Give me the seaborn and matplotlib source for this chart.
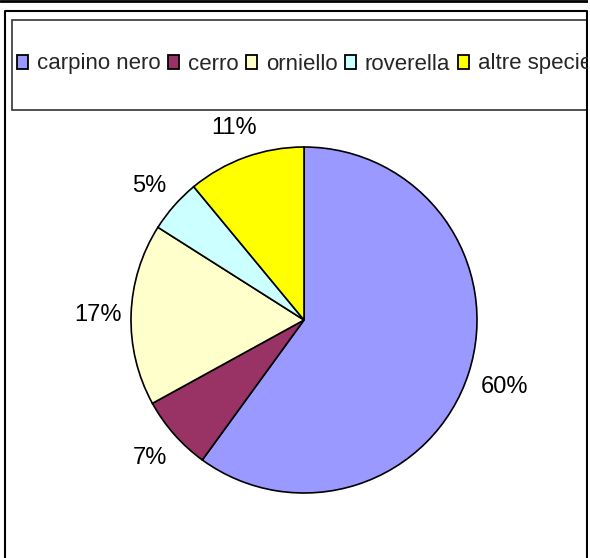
import matplotlib
matplotlib.use("Agg")
import matplotlib.pyplot as plt
from matplotlib.patches import Patch, Rectangle
from matplotlib.lines import Line2D
import numpy as np
import seaborn as sns

# data
species = ['carpino nero', 'cerro', 'orniello', 'roverella', 'altre specie']
shares = [60, 7, 17, 5, 11]
colors = ['#9999FF', '#993366', '#FFFFCC', '#CCFFFF', '#FFFF00']

sns.set_theme(style='white')
plt.rcParams['font.family'] = ['Liberation Sans', 'DejaVu Sans']

W, H = 590, 558
fig = plt.figure(figsize=(W / 100, H / 100), dpi=100)
fig.patch.set_facecolor('white')


def fx(x):
    return x / W


def fy(y):
    return 1 - y / H


# outer frame lines
fig.add_artist(Line2D([0, 1], [fy(0.5), fy(0.5)], color='black', lw=2, transform=fig.transFigure))
fig.add_artist(Line2D([fx(5), fx(5), fx(587), fx(587)], [0, fy(11), fy(11), 0],
                      color='black', lw=1.5, transform=fig.transFigure))

# legend box
fig.add_artist(Rectangle((fx(12), fy(110)), fx(590) - fx(12), fy(20) - fy(110),
                         transform=fig.transFigure, fill=False, edgecolor='#333333', lw=1.2))

# pie
cx, cy, r = 304, 320, 173
ax = fig.add_axes([fx(cx - r), fy(cy + r), 2 * r / W, 2 * r / H])
wedges = ax.pie(shares, colors=colors, startangle=90, counterclock=False,
                wedgeprops=dict(edgecolor='black', linewidth=1.2))[0]
for w, s in zip(wedges, shares):
    ang = np.deg2rad((w.theta1 + w.theta2) / 2)
    d = 1.22 if s > 50 else 1.19
    ax.text(d * np.cos(ang), d * np.sin(ang) - 0.01, f'{s}%', ha='center', va='center',
            fontsize=17, color='black')
ax.set_xlim(-1, 1)
ax.set_ylim(-1, 1)
ax.axis('off')

handles = [Patch(facecolor=c, edgecolor='black', lw=1.3) for c in colors]
fig.legend(handles, species, ncol=5, loc='center left', bbox_to_anchor=(fx(17), fy(64)),
           frameon=False, fontsize=16, borderpad=0, borderaxespad=0,
           handlelength=0.5, handleheight=0.6, handletextpad=0.4, columnspacing=0.33)

# mask legend overflow beyond the right frame line
fig.add_artist(Rectangle((fx(588), 0), 1, 1, transform=fig.transFigure,
                         facecolor='white', edgecolor='none', zorder=10))

fig.savefig('out.png', dpi=100, facecolor='white')
